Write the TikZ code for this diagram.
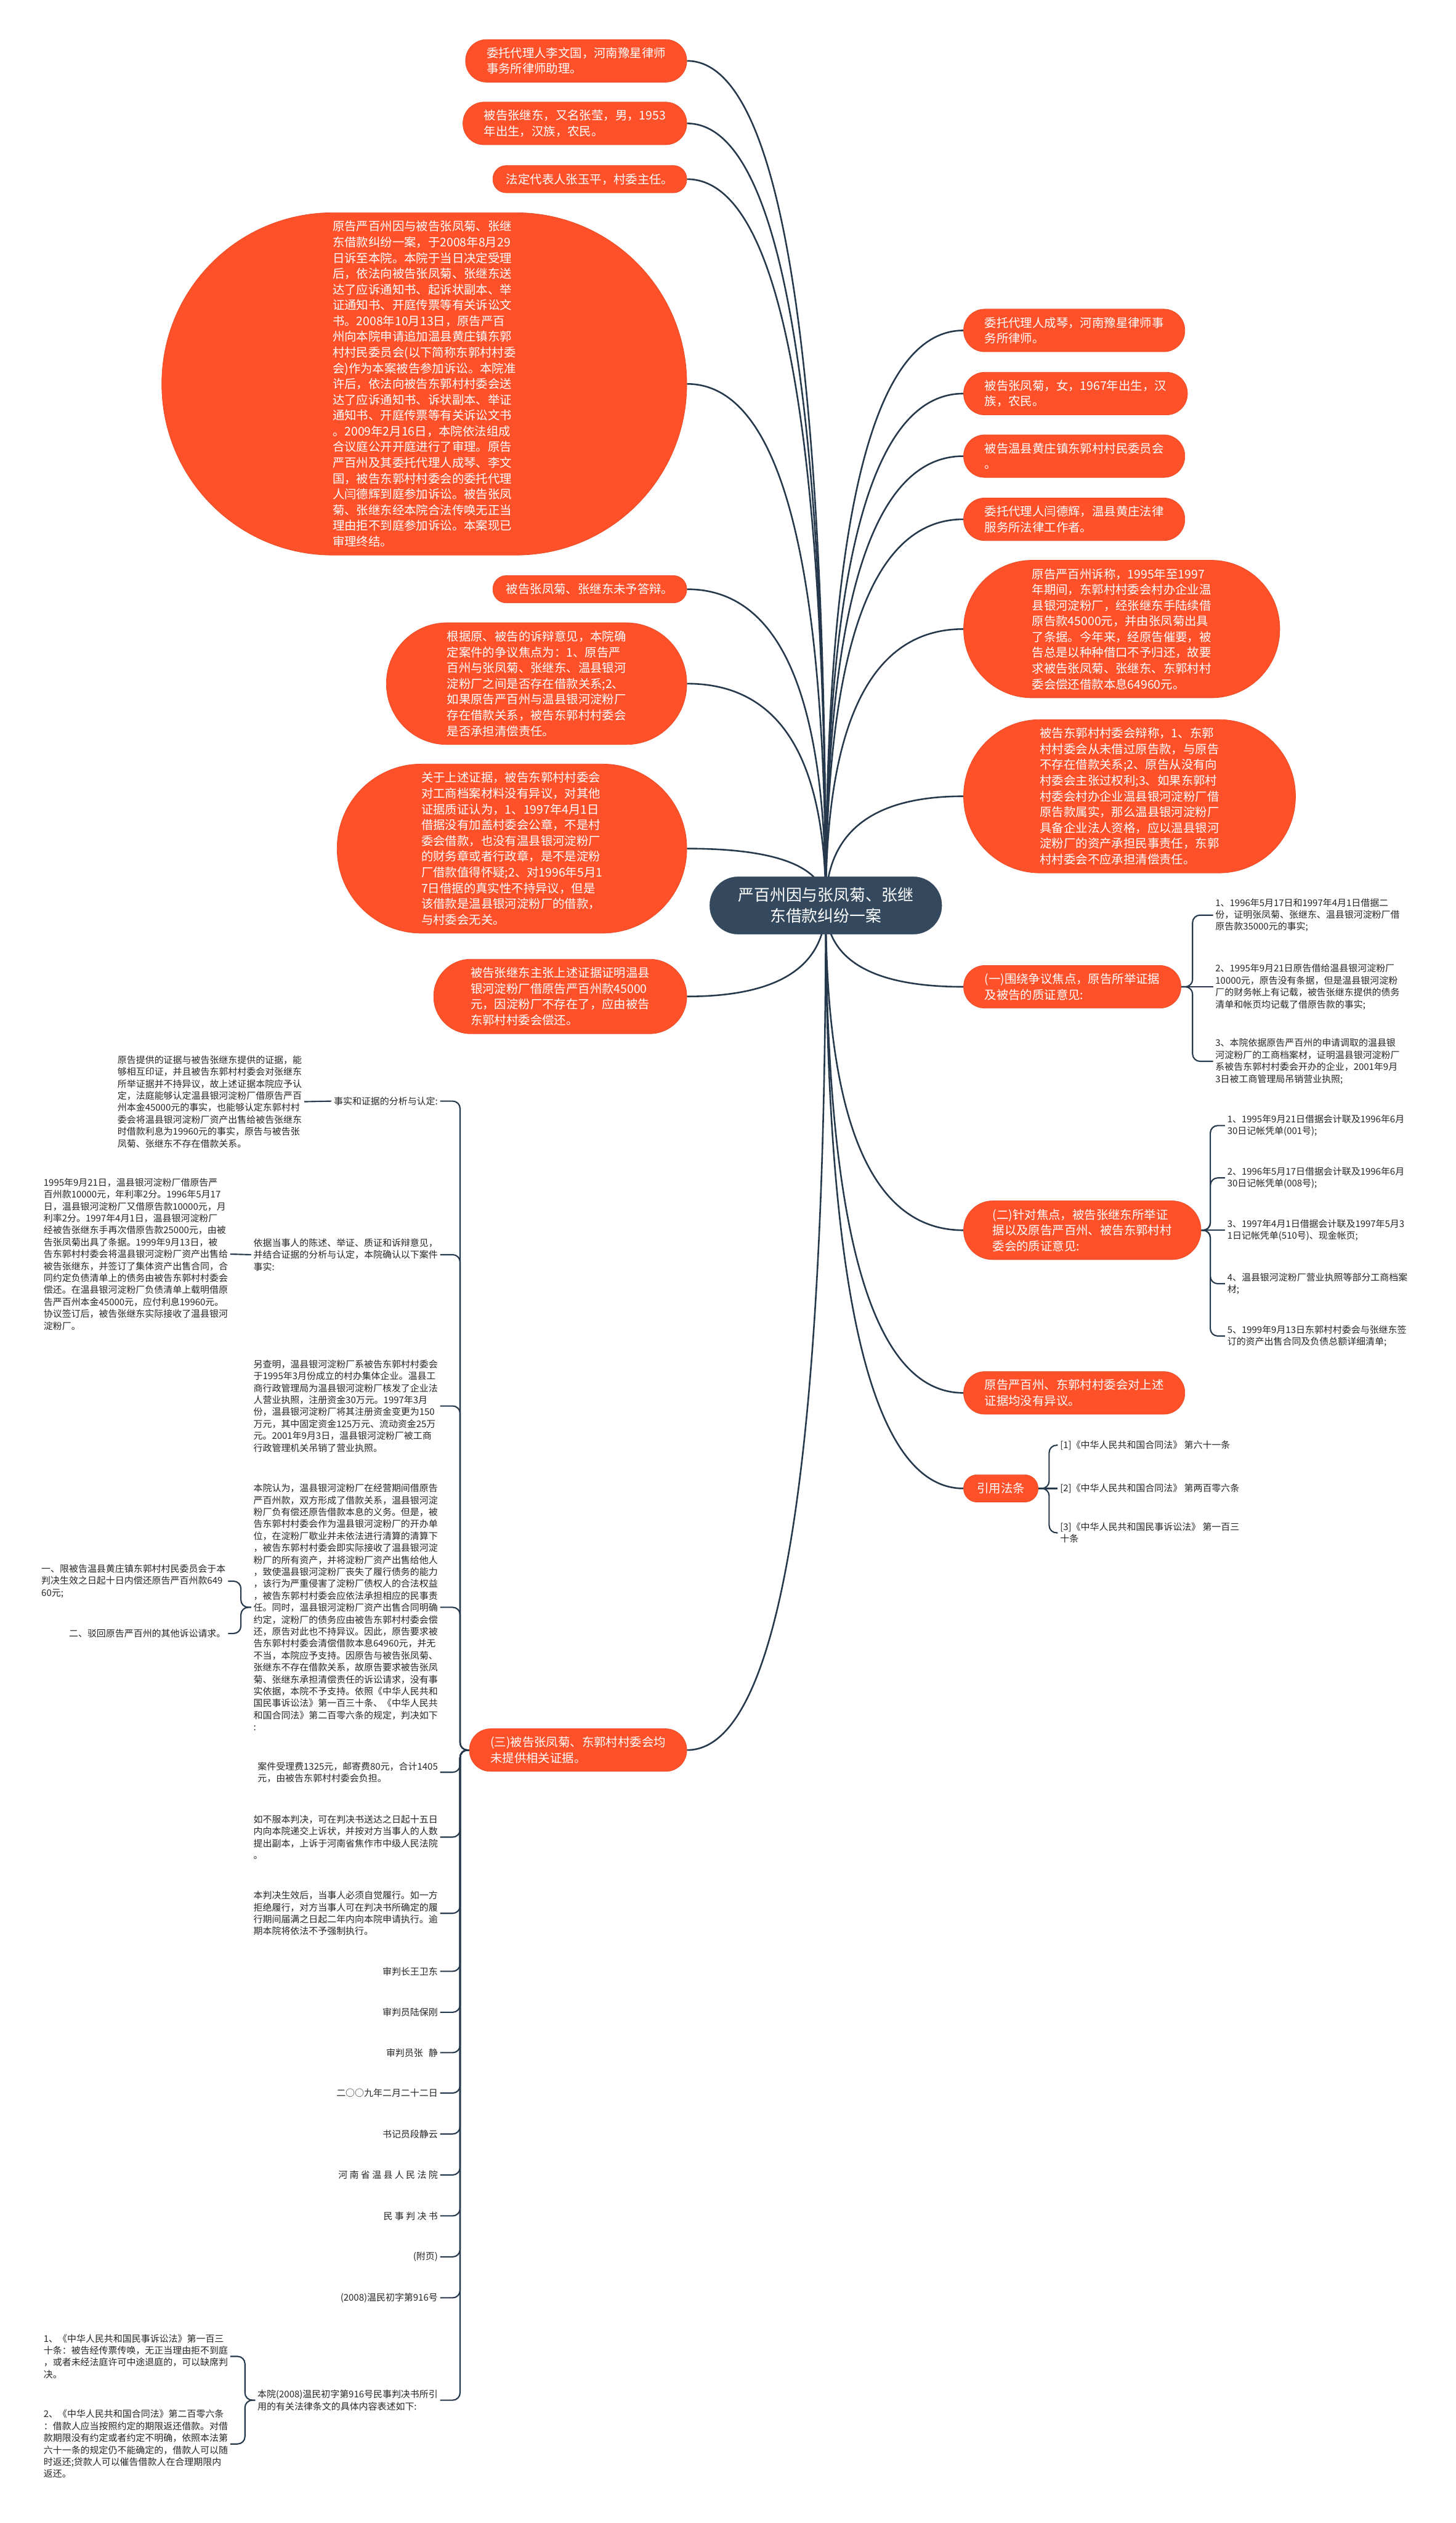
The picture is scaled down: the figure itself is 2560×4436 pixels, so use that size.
\documentclass[tikz,border=0pt]{standalone}
\usepackage{fontspec}
\setmainfont{Noto Sans CJK SC}
\usepackage{xcolor}
\usetikzlibrary{calc,positioning,backgrounds}
\definecolor{topicred}{HTML}{FE5129}
\definecolor{rootslate}{HTML}{34495E}
\definecolor{linkslate}{HTML}{26394C}
\definecolor{leafink}{HTML}{262626}

\begin{document}
\begin{tikzpicture}[x=1pt, y=-1pt,
  topic/.style={rectangle, rounded corners=#1pt, minimum height={2*#1pt+1pt}, inner xsep=#1pt, inner ysep=13pt,
    fill=topicred, draw=topicred!92!black, line width=0.8pt,
    text=white, align=left, font=\fontsize{21}{27.7}\selectfont},
  topic/.default=37,
  root/.style={rectangle, rounded corners=50pt, minimum height=101pt, inner xsep=50pt, inner ysep=18pt,
    fill=rootslate, draw=rootslate, text=white, align=center, font=\fontsize{28}{37}\selectfont},
  leaf/.style={align=left, inner sep=4pt, text=leafink, font=\fontsize{16.2}{21}\selectfont},
  link/.style={draw=linkslate, line width=2.8pt},
  brace/.style={draw=linkslate, line width=2.3pt, rounded corners=13pt}]

\useasboundingbox (0,0) rectangle (2560,4436);

% root
\node[root] (root) at (1452,1592) {严百州因与张凤菊、张继\\东借款纠纷一案};

% left topics
\node[topic, anchor=east] (agentli) at (1208,107) {委托代理人李文国，河南豫星律师\\事务所律师助理。};
\node[topic, anchor=east] (defzhang) at (1208,217) {被告张继东，又名张莹，男，1953\\年出生，汉族，农民。};
\node[topic=23.5, anchor=east] (legalrep) at (1208,315) {法定代表人张玉平，村委主任。};
\node[topic=300.5, anchor=east] (history) at (1208,675) {原告严百州因与被告张凤菊、张继\\东借款纠纷一案，于2008年8月29\\日诉至本院。本院于当日决定受理\\后，依法向被告张凤菊、张继东送\\达了应诉通知书、起诉状副本、举\\证通知书、开庭传票等有关诉讼文\\书。2008年10月13日，原告严百\\州向本院申请追加温县黄庄镇东郭\\村村民委员会(以下简称东郭村村委\\会)作为本案被告参加诉讼。本院准\\许后，依法向被告东郭村村委会送\\达了应诉通知书、诉状副本、举证\\通知书、开庭传票等有关诉讼文书\\。2009年2月16日，本院依法组成\\合议庭公开开庭进行了审理。原告\\严百州及其委托代理人成琴、李文\\国，被告东郭村村委会的委托代理\\人闫德辉到庭参加诉讼。被告张凤\\菊、张继东经本院合法传唤无正当\\理由拒不到庭参加诉讼。本案现已\\审理终结。};
\node[topic=23.5, anchor=east] (noreply) at (1208,1036) {被告张凤菊、张继东未予答辩。};
\node[topic=106.6, anchor=east] (focus) at (1208,1202) {根据原、被告的诉辩意见，本院确\\定案件的争议焦点为：1、原告严\\百州与张凤菊、张继东、温县银河\\淀粉厂之间是否存在借款关系;2、\\如果原告严百州与温县银河淀粉厂\\存在借款关系，被告东郭村村委会\\是否承担清偿责任。};
\node[topic=148.2, anchor=east] (villageview) at (1208,1492) {关于上述证据，被告东郭村村委会\\对工商档案材料没有异议，对其他\\证据质证认为，1、1997年4月1日\\借据没有加盖村委会公章，不是村\\委会借款，也没有温县银河淀粉厂\\的财务章或者行政章，是不是淀粉\\厂借款值得怀疑;2、对1996年5月1\\7日借据的真实性不持异议，但是\\该借款是温县银河淀粉厂的借款，\\与村委会无关。};
\node[topic=65, anchor=east] (zhangview) at (1208,1752) {被告张继东主张上述证据证明温县\\银河淀粉厂借原告严百州款45000\\元，因淀粉厂不存在了，应由被告\\东郭村村委会偿还。};
\node[topic, anchor=east] (third) at (1208,3077) {(三)被告张凤菊、东郭村村委会均\\未提供相关证据。};

% right topics
\node[topic, anchor=west] (agentcheng) at (1694,581) {委托代理人成琴，河南豫星律师事\\务所律师。};
\node[topic, anchor=west] (defzhangfj) at (1694,692) {被告张凤菊，女，1967年出生，汉\\族，农民。};
\node[topic, anchor=west] (defvillage) at (1694,802) {被告温县黄庄镇东郭村村民委员会\\。};
\node[topic, anchor=west] (agentyan) at (1694,913) {委托代理人闫德辉，温县黄庄法律\\服务所法律工作者。};
\node[topic=120.5, anchor=west] (claim) at (1694,1106) {原告严百州诉称，1995年至1997\\年期间，东郭村村委会村办企业温\\县银河淀粉厂，经张继东手陆续借\\原告款45000元，并由张凤菊出具\\了条据。今年来，经原告催要，被\\告总是以种种借口不予归还，故要\\求被告张凤菊、张继东、东郭村村\\委会偿还借款本息64960元。};
\node[topic=134.3, anchor=west] (defense) at (1694,1400) {被告东郭村村委会辩称，1、东郭\\村村委会从未借过原告款，与原告\\不存在借款关系;2、原告从没有向\\村委会主张过权利;3、如果东郭村\\村委会村办企业温县银河淀粉厂借\\原告款属实，那么温县银河淀粉厂\\具备企业法人资格，应以温县银河\\淀粉厂的资产承担民事责任，东郭\\村村委会不应承担清偿责任。};
\node[topic, anchor=west] (first) at (1694,1735) {(一)围绕争议焦点，原告所举证据\\及被告的质证意见:};
\node[topic=51.2, anchor=west] (second) at (1694,2163) {(二)针对焦点，被告张继东所举证\\据以及原告严百州、被告东郭村村\\委会的质证意见:};
\node[topic, anchor=west] (noobjection) at (1694,2449) {原告严百州、东郭村村委会对上述\\证据均没有异议。};
\node[topic=23.5, anchor=west] (laws) at (1694,2617) {引用法条};

% right leaves
\node[leaf, anchor=west] (first1) at (2133,1609) {1、1996年5月17日和1997年4月1日借据二\\份，证明张凤菊、张继东、温县银河淀粉厂借\\原告款35000元的事实;};
\node[leaf, anchor=west] (first2) at (2133,1735) {2、1995年9月21日原告借给温县银河淀粉厂\\10000元，原告没有条据，但是温县银河淀粉\\厂的财务帐上有记载，被告张继东提供的债务\\清单和帐页均记载了借原告款的事实;};
\node[leaf, anchor=west] (first3) at (2133,1866) {3、本院依据原告严百州的申请调取的温县银\\河淀粉厂的工商档案材，证明温县银河淀粉厂\\系被告东郭村村委会开办的企业，2001年9月\\3日被工商管理局吊销营业执照;};
\node[leaf, anchor=west] (second1) at (2154,1979) {1、1995年9月21日借据会计联及1996年6月\\30日记帐凭单(001号);};
\node[leaf, anchor=west] (second2) at (2154,2071) {2、1996年5月17日借据会计联及1996年6月\\30日记帐凭单(008号);};
\node[leaf, anchor=west] (second3) at (2154,2163) {3、1997年4月1日借据会计联及1997年5月3\\1日记帐凭单(510号)、现金帐页;};
\node[leaf, anchor=west] (second4) at (2154,2257) {4、温县银河淀粉厂营业执照等部分工商档案\\材;};
\node[leaf, anchor=west] (second5) at (2154,2349) {5、1999年9月13日东郭村村委会与张继东签\\订的资产出售合同及负债总额详细清单;};
\node[leaf, anchor=west] (law1) at (1860,2541) {[1]《中华人民共和国合同法》 第六十一条};
\node[leaf, anchor=west] (law2) at (1860,2617) {[2]《中华人民共和国合同法》 第两百零六条};
\node[leaf, anchor=west] (law3) at (1860,2695) {[3]《中华人民共和国民事诉讼法》 第一百三\\十条};

% left leaves under (三)
\node[leaf, anchor=east] (fact1) at (774,1936) {事实和证据的分析与认定:};
\node[leaf, anchor=east] (fact1a) at (535,1937) {原告提供的证据与被告张继东提供的证据，能\\够相互印证，并且被告东郭村村委会对张继东\\所举证据并不持异议，故上述证据本院应予认\\定，法庭能够认定温县银河淀粉厂借原告严百\\州本金45000元的事实，也能够认定东郭村村\\委会将温县银河淀粉厂资产出售给被告张继东\\时借款利息为19960元的事实，原告与被告张\\凤菊、张继东不存在借款关系。};
\node[leaf, anchor=east] (fact2) at (774,2206) {依据当事人的陈述、举证、质证和诉辩意见，\\并结合证据的分析与认定，本院确认以下案件\\事实:};
\node[leaf, anchor=east] (fact2a) at (405,2205) {1995年9月21日，温县银河淀粉厂借原告严\\百州款10000元，年利率2分。1996年5月17\\日，温县银河淀粉厂又借原告款10000元，月\\利率2分。1997年4月1日，温县银河淀粉厂\\经被告张继东手再次借原告款25000元，由被\\告张凤菊出具了条据。1999年9月13日，被\\告东郭村村委会将温县银河淀粉厂资产出售给\\被告张继东，并签订了集体资产出售合同，合\\同约定负债清单上的债务由被告东郭村村委会\\偿还。在温县银河淀粉厂负债清单上载明借原\\告严百州本金45000元，应付利息19960元。\\协议签订后，被告张继东实际接收了温县银河\\淀粉厂。};
\node[leaf, anchor=east] (fact3) at (774,2472) {另查明，温县银河淀粉厂系被告东郭村村委会\\于1995年3月份成立的村办集体企业。温县工\\商行政管理局为温县银河淀粉厂核发了企业法\\人营业执照，注册资金30万元。1997年3月\\份，温县银河淀粉厂将其注册资金变更为150\\万元，其中固定资金125万元、流动资金25万\\元。2001年9月3日，温县银河淀粉厂被工商\\行政管理机关吊销了营业执照。};
\node[leaf, anchor=east] (fact4) at (774,2826) {本院认为，温县银河淀粉厂在经营期间借原告\\严百州款，双方形成了借款关系，温县银河淀\\粉厂负有偿还原告借款本息的义务。但是，被\\告东郭村村委会作为温县银河淀粉厂的开办单\\位，在淀粉厂歇业并未依法进行清算的清算下\\，被告东郭村村委会即实际接收了温县银河淀\\粉厂的所有资产，并将淀粉厂资产出售给他人\\，致使温县银河淀粉厂丧失了履行债务的能力\\，该行为严重侵害了淀粉厂债权人的合法权益\\，被告东郭村村委会应依法承担相应的民事责\\任。同时，温县银河淀粉厂资产出售合同明确\\约定，淀粉厂的债务应由被告东郭村村委会偿\\还，原告对此也不持异议。因此，原告要求被\\告东郭村村委会清偿借款本息64960元，并无\\不当，本院应予支持。因原告与被告张凤菊、\\张继东不存在借款关系，故原告要求被告张凤\\菊、张继东承担清偿责任的诉讼请求，没有事\\实依据，本院不予支持。依照《中华人民共和\\国民事诉讼法》第一百三十条、《中华人民共\\和国合同法》第二百零六条的规定，判决如下\\:};
\node[leaf, anchor=east] (verdict1) at (401,2780) {一、限被告温县黄庄镇东郭村村民委员会于本\\判决生效之日起十日内偿还原告严百州款649\\60元;};
\node[leaf, anchor=east] (verdict2) at (401,2872) {二、驳回原告严百州的其他诉讼请求。};
\node[leaf, anchor=east] (fact5) at (774,3116) {案件受理费1325元，邮寄费80元，合计1405\\元，由被告东郭村村委会负担。};
\node[leaf, anchor=east] (fact6) at (774,3230) {如不服本判决，可在判决书送达之日起十五日\\内向本院递交上诉状，并按对方当事人的人数\\提出副本，上诉于河南省焦作市中级人民法院\\。};
\node[leaf, anchor=east] (fact7) at (774,3364) {本判决生效后，当事人必须自觉履行。如一方\\拒绝履行，对方当事人可在判决书所确定的履\\行期间届满之日起二年内向本院申请执行。逾\\期本院将依法不予强制执行。};
\node[leaf, anchor=east] (fact8) at (774,3466) {审判长王卫东};
\node[leaf, anchor=east] (fact9) at (774,3538) {审判员陆保刚};
\node[leaf, anchor=east] (fact10) at (774,3609) {审判员张\hspace{0.6em}静};
\node[leaf, anchor=east] (fact11) at (774,3680) {二○○九年二月二十二日};
\node[leaf, anchor=east] (fact12) at (774,3752) {书记员段静云};
\node[leaf, anchor=east] (fact13) at (774,3824) {河 南 省 温 县 人 民 法 院};
\node[leaf, anchor=east] (fact14) at (774,3896) {民 事 判 决 书};
\node[leaf, anchor=east] (fact15) at (774,3968) {(附页)};
\node[leaf, anchor=east] (fact16) at (774,4040) {(2008)温民初字第916号};
\node[leaf, anchor=east] (fact17) at (774,4220) {本院(2008)温民初字第916号民事判决书所引\\用的有关法律条文的具体内容表述如下:};
\node[leaf, anchor=east] (article1) at (405,4143) {1、《中华人民共和国民事诉讼法》第一百三\\十条：被告经传票传唤，无正当理由拒不到庭\\，或者未经法庭许可中途退庭的，可以缺席判\\决。};
\node[leaf, anchor=east] (article2) at (405,4297) {2、《中华人民共和国合同法》第二百零六条\\：借款人应当按照约定的期限返还借款。对借\\款期限没有约定或者约定不明确，依照本法第\\六十一条的规定仍不能确定的，借款人可以随\\时返还;贷款人可以催告借款人在合理期限内\\返还。};

\begin{scope}[on background layer]
  \fill[white] (0,0) rectangle (2560,4436);
  % root to topics
  \foreach \n in {agentli,defzhang,legalrep,history,noreply,focus,villageview,zhangview,third}{
    \coordinate (bend) at (root.center |- \n.east);
    \draw[link] (root.center) .. controls ($(root.center)!0.667!(bend)$) and ($(\n.east)!0.667!(bend)$) .. (\n.east);
  }
  \foreach \n in {agentcheng,defzhangfj,defvillage,agentyan,claim,defense,first,second,noobjection,laws}{
    \coordinate (bend) at (root.center |- \n.west);
    \draw[link] (root.center) .. controls ($(root.center)!0.667!(bend)$) and ($(\n.west)!0.667!(bend)$) .. (\n.west);
  }
  % braces
  \foreach \n in {first1,first3} \draw[brace] (first.east) -- ++(20,0) |- (\n.west);
  \draw[brace] (first.east) -- (first2.west);
  \foreach \n in {second1,second2,second4,second5} \draw[brace] (second.east) -- ++(16,0) |- (\n.west);
  \draw[brace] (second.east) -- (second3.west);
  \foreach \n in {law1,law3} \draw[brace] (laws.east) -- ++(19,0) |- (\n.west);
  \draw[brace] (laws.east) -- (law2.west);
  \foreach \n in {fact1,fact2,fact3,fact4,fact5,fact6,fact7,fact8,fact9,fact10,fact11,fact12,fact13,fact14,fact15,fact16,fact17}
    \draw[brace] (third.west) -- ++(-16,0) |- (\n.east);
  \draw[brace] (fact1.west) -- (fact1a.east);
  \draw[brace] (fact2.west) -- (fact2a.east);
  \foreach \n in {verdict1,verdict2} \draw[brace] (fact4.west) -- ++(-18,0) |- (\n.east);
  \foreach \n in {article1,article2} \draw[brace] (fact17.west) -- ++(-18,0) |- (\n.east);
\end{scope}
\end{tikzpicture}
\end{document}
